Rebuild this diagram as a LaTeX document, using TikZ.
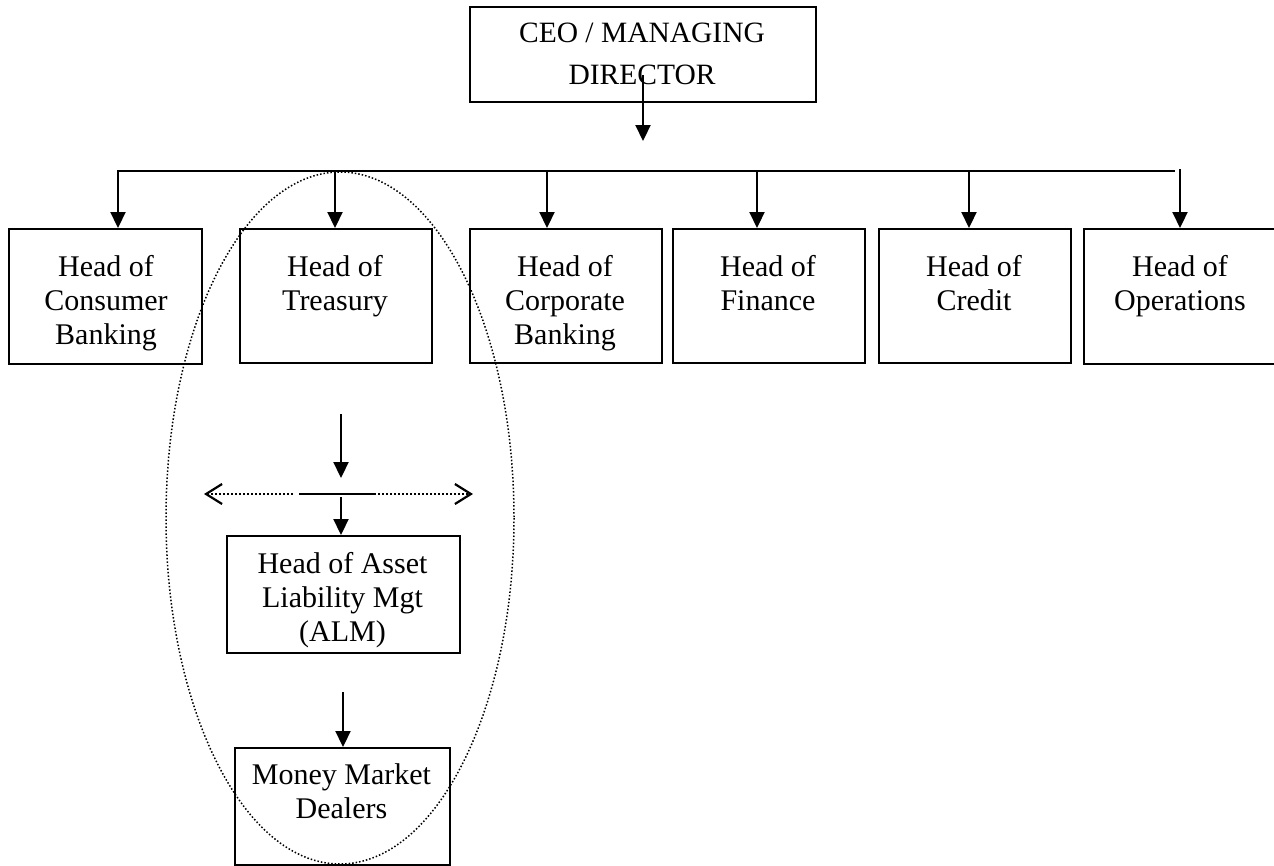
\documentclass[tikz,border=0pt]{standalone}
\usepackage{fontspec}
\setmainfont{Liberation Serif}
\usetikzlibrary{arrows.meta,calc}
\begin{document}
\begin{tikzpicture}[x=1pt,y=-1pt,
  box/.style={draw,line width=2.2pt,inner sep=0pt,anchor=north west},
  lbl/.style={inner sep=0pt,align=center,anchor=north,font=\fontsize{30}{34}\selectfont},
  conn/.style={line width=2.2pt},
  arr/.style={line width=2.2pt,-{Triangle[length=16pt,width=15pt]}},
  dotarr/.style={line width=1.7pt,dash pattern=on 1.7pt off 2.3pt,-{Straight Barb[length=16pt,width=20pt,line width=2.2pt]}},
  ellip/.style={line width=1.5pt,dash pattern=on 1.5pt off 2pt}
]
\useasboundingbox (0,0) rectangle (1274,865);
\clip (0,0) rectangle (1274,865);

% CEO
\node[box,minimum width=346pt,minimum height=95pt] (ceo) at (469,6) {};
\node[lbl,font=\fontsize{29.5}{42}\selectfont] (ceot) at (642,23) {CEO / MANAGING\\DIRECTOR};

% second row boxes
\node[box,minimum width=193pt,minimum height=135pt] (cons) at (8,228) {};
\node[box,minimum width=192pt,minimum height=134pt] (treas) at (239,228) {};
\node[box,minimum width=192pt,minimum height=134pt] (corp) at (469,228) {};
\node[box,minimum width=192pt,minimum height=134pt] (fin) at (672,228) {};
\node[box,minimum width=192pt,minimum height=134pt] (cred) at (878,228) {};
\node[box,minimum width=194pt,minimum height=135pt] (ops) at (1083,228) {};

\node[lbl] (const) at (106,255) {Head of\\Consumer\\Banking};
\node[lbl] (treast) at (335,255) {Head of\\Treasury};
\node[lbl] (corpt) at (565,255) {Head of\\Corporate\\Banking};
\node[lbl] (fint) at (768,255) {Head of\\Finance};
\node[lbl] (credt) at (974,255) {Head of\\Credit};
\node[lbl] (opst) at (1180,255) {Head of\\Operations};

% ALM and dealers
\node[box,minimum width=233pt,minimum height=117pt] (alm) at (226,535) {};
\node[lbl] (almt) at (342.5,552) {Head of Asset\\Liability Mgt\\(ALM)};
\node[box,minimum width=215pt,minimum height=117pt] (mm) at (234,747) {};
\node[lbl] (mmt) at (341.5,763) {Money Market\\Dealers};

% CEO connector
\coordinate (c0) at (643,75);
\coordinate (c1) at (643,141);
\draw[arr] (c0) -- (c1);

% bus
\coordinate (bL) at (118,171);
\coordinate (bR) at (1175,171);
\coordinate (bT) at (335,171);
\coordinate (bC) at (547,171);
\coordinate (bF) at (757,171);
\coordinate (bK) at (969,171);
\coordinate (bO) at (1180,169);
\draw[arr] (bR) -- (bL) -- (bL |- cons.north);
\draw[arr] (bT) -- (bT |- treas.north);
\draw[arr] (bC) -- (bC |- corp.north);
\draw[arr] (bF) -- (bF |- fin.north);
\draw[arr] (bK) -- (bK |- cred.north);
\draw[arr] (bO) -- (bO |- ops.north);

% treasury branch
\coordinate (t0) at (341,414);
\coordinate (t1) at (341,478);
\draw[arr] (t0) -- (t1);
\coordinate (hL) at (204,494);
\coordinate (hs1) at (299,494);
\coordinate (hs2) at (376,494);
\coordinate (hR) at (473,494);
\draw[conn] (hs1) -- (hs2);
\draw[dotarr] ($(hs1)+(-6,0)$) -- (hL);
\draw[dotarr] ($(hs2)+(2,0)$) -- (hR);
\coordinate (t2) at (341,497);
\draw[arr] (t2) -- (t2 |- alm.north);
\coordinate (t3) at (343,692);
\draw[arr] (t3) -- (t3 |- mm.north);

% dotted ellipse
\draw[ellip] (340,518) ellipse [x radius=174, y radius=346];
\end{tikzpicture}
\end{document}
